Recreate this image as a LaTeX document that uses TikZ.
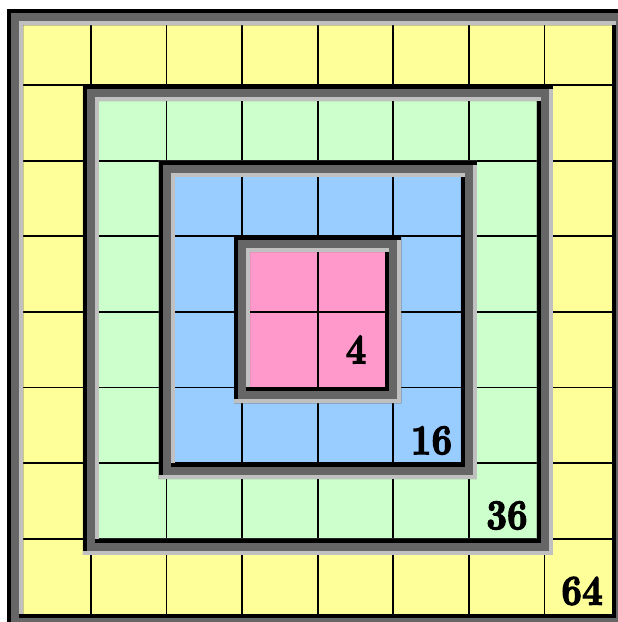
\documentclass[tikz,border=0pt]{standalone}
\usepackage{graphicx}
\usepackage{fontspec}
\newfontfamily\numfont{lmroman10-bold.otf}[FakeBold=3]
\definecolor{cyel}{HTML}{FFFF99}
\definecolor{cgrn}{HTML}{CCFFCC}
\definecolor{cblu}{HTML}{99CCFF}
\definecolor{cpnk}{HTML}{FF99CC}
\definecolor{fdark}{HTML}{666666}
\definecolor{flight}{HTML}{C0C0C0}
% outer box of a bevelled frame: L, T, R, B (y grows downward)
\newcommand\bevframe[4]{%
  \fill[fdark,even odd rule] (#1,#2) rectangle (#3,#4) ({#1+16},{#2+16}) rectangle ({#3-16},{#4-16});
  \fill[black] (#1,#2) rectangle (#3,{#2+4});
  \fill[black] (#1,#2) rectangle ({#1+4},{#4-4});
  \fill[flight] (#1,{#4-4}) rectangle (#3,#4);
  \fill[flight] ({#3-4},{#2+4}) rectangle (#3,#4);
  \fill[flight] ({#1+12},{#2+12}) rectangle ({#3-12},{#2+16});
  \fill[flight] ({#1+12},{#2+12}) rectangle ({#1+16},{#4-16});
  \fill[black] ({#3-16},{#2+16}) rectangle ({#3-12},{#4-12});
  \fill[black] ({#1+12},{#4-16}) rectangle ({#3-12},{#4-12});
}
\tikzset{
  gridline/.style={black,line width=1.8pt},
  count/.style={inner sep=0pt,anchor=center,font=\numfont\fontsize{36}{36}\selectfont}
}
\begin{document}
\begin{tikzpicture}[x=1pt,y=-1pt]
\useasboundingbox (0,0) rectangle (618,622);
\clip (0,0) rectangle (618,622);
% coloured areas
\fill[cyel] (15.3,9.4) rectangle (622,622);
\fill[cgrn] (90.9,93.0) rectangle (544.5,546.6);
\fill[cblu] (166.5,168.6) rectangle (468.9,471.0);
\fill[cpnk] (242.1,244.2) rectangle (393.3,395.4);
% grid
\foreach \k in {1,...,7}{
  \draw[gridline] ({15.3+75.6*\k},9.4) -- ({15.3+75.6*\k},622);
  \draw[gridline] (15.3,{9.4+75.6*\k}) -- (622,{9.4+75.6*\k});
}
% frames
\bevframe{7.3}{9.4}{628.1}{630.2}
\bevframe{82.9}{85.0}{552.5}{554.6}
\bevframe{158.5}{160.6}{476.9}{479.0}
\bevframe{234.1}{236.2}{401.3}{403.4}
% labels
\node[count] (n4) at (356,349.5) {\scalebox{1}[1.18]{4}};
\node[count] (n16) at (431.5,440.5) {\scalebox{1}[1.18]{16}};
\node[count] (n36) at (507,515.5) {\scalebox{1}[1.18]{36}};
\node[count] (n64) at (582,591) {\scalebox{1}[1.18]{64}};
\end{tikzpicture}
\end{document}
